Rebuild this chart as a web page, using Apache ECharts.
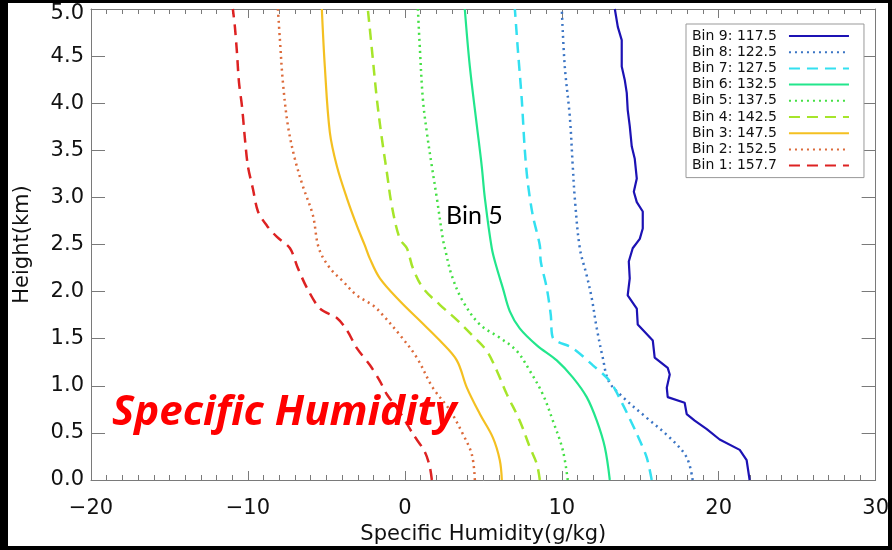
<!DOCTYPE html>
<html>
<head>
<meta charset="utf-8">
<script src="https://cdn.jsdelivr.net/npm/echarts@6/dist/echarts.min.js"></script>
<style>
html,body{margin:0;padding:0;background:#000;}
#chart{width:892px;height:550px;}
</style>
</head>
<body>
<div id="chart"></div>
<script>
// Tick values
const xTicks = [-20, -10, 0, 10, 20, 30];
const yTicks = [0.0, 0.5, 1.0, 1.5, 2.0, 2.5, 3.0, 3.5, 4.0, 4.5, 5.0];

// Legend labels (top to bottom)
const binLabels = ['Bin 9: 117.5','Bin 8: 122.5','Bin 7: 127.5','Bin 6: 132.5','Bin 5: 137.5','Bin 4: 142.5','Bin 3: 147.5','Bin 2: 152.5','Bin 1: 157.7'];

// Profiles: [specific humidity (g/kg), height (km)]
const bin1 = [[1.72,0],[1.59,0.14],[1.27,0.30],[0.51,0.49],[-0.32,0.72],[-1.15,0.91],[-1.59,1.05],[-2.23,1.22],[-3.06,1.40],[-3.69,1.59],[-4.33,1.72],[-5.41,1.82],[-6.24,2.04],[-6.82,2.25],[-7.32,2.46],[-8.15,2.58],[-8.79,2.70],[-9.36,2.85],[-9.68,3.09],[-10.0,3.33],[-10.19,3.62],[-10.38,3.97],[-10.57,4.22],[-10.70,4.54],[-10.83,4.81],[-10.96,5.0]];
const bin2 = [[4.46,0],[4.27,0.27],[3.69,0.49],[2.87,0.74],[1.78,0.98],[0.76,1.30],[-0.32,1.54],[-1.40,1.75],[-2.0,1.85],[-3.06,1.96],[-3.95,2.11],[-4.78,2.25],[-5.48,2.46],[-5.86,2.81],[-6.50,3.12],[-7.01,3.41],[-7.45,3.76],[-7.77,4.22],[-7.96,4.67],[-8.09,5.0]];
const bin3 = [[6.18,0],[6.05,0.21],[5.61,0.45],[4.78,0.70],[3.95,0.98],[3.31,1.27],[2.23,1.48],[0.96,1.69],[-0.32,1.90],[-1.59,2.14],[-2.23,2.35],[-2.55,2.49],[-3.06,2.70],[-3.69,2.99],[-4.33,3.33],[-4.78,3.69],[-5.10,4.39],[-5.29,5.0]];
const bin4 = [[8.60,0],[8.41,0.17],[7.96,0.35],[7.32,0.63],[6.50,0.91],[5.86,1.16],[5.22,1.37],[4.33,1.53],[3.31,1.70],[2.23,1.86],[1.15,2.04],[0.51,2.25],[0.13,2.46],[-0.32,2.56],[-0.83,2.91],[-1.15,3.27],[-1.46,3.62],[-1.78,4.04],[-2.10,4.57],[-2.36,5.0]];
const bin5 = [[10.38,0],[10.06,0.32],[9.43,0.63],[8.79,0.91],[7.96,1.16],[7.13,1.37],[6.05,1.51],[4.78,1.65],[3.69,1.90],[2.99,2.17],[2.55,2.46],[2.42,2.56],[2.04,2.99],[1.72,3.33],[1.40,3.69],[1.15,4.04],[0.96,4.57],[0.83,5.0]];
const bin6 = [[13.06,0],[12.74,0.35],[12.23,0.63],[11.59,0.88],[10.70,1.09],[9.68,1.27],[8.41,1.43],[7.32,1.61],[6.69,1.79],[6.24,2.04],[5.86,2.25],[5.54,2.46],[5.10,2.99],[4.90,3.33],[4.59,3.76],[4.14,4.39],[3.82,5.0]];
const bin7 = [[15.73,0],[15.41,0.24],[14.78,0.49],[13.89,0.80],[13.06,1.05],[11.97,1.22],[10.70,1.40],[9.43,1.51],[9.30,1.75],[9.04,2.04],[8.66,2.32],[8.60,2.49],[8.15,2.81],[7.83,3.16],[7.64,3.51],[7.45,4.04],[7.20,4.57],[7.01,5.0]];
const bin8 = [[18.34,0],[17.96,0.24],[16.88,0.45],[15.41,0.66],[13.89,0.88],[12.99,1.05],[12.61,1.30],[12.23,1.61],[11.91,1.93],[11.59,2.17],[11.15,2.46],[10.83,2.99],[10.70,3.33],[10.51,3.86],[10.19,4.39],[10.0,5.0]];
const bin9 = [[21.97,0],[21.78,0.21],[21.34,0.32],[20.06,0.43],[19.24,0.54],[18.47,0.63],[17.96,0.70],[17.83,0.82],[16.75,0.88],[16.69,0.98],[16.88,1.12],[16.75,1.19],[15.92,1.30],[15.80,1.48],[14.84,1.65],[14.78,1.82],[14.20,1.96],[14.33,2.14],[14.27,2.32],[14.52,2.46],[14.97,2.56],[15.16,2.67],[15.16,2.85],[14.78,2.95],[14.59,3.06],[14.78,3.20],[14.65,3.41],[14.46,3.54],[14.33,3.76],[14.20,3.93],[14.14,4.11],[14.01,4.25],[13.82,4.39],[13.82,4.67],[13.57,4.81],[13.38,5.0]];

const DOT = [2, 4];
const DASH = [11, 7];
const binSeries = [
  {data: bin9, color: '#1c12b4', type: 'solid', width: 2.2, smooth: false},
  {data: bin8, color: '#3a74c4', type: DOT, width: 2.5, smooth: 0.35},
  {data: bin7, color: '#33e0f0', type: DASH, width: 2.5, smooth: 0.3},
  {data: bin6, color: '#22e68c', type: 'solid', width: 2.2, smooth: 0.35},
  {data: bin5, color: '#44e044', type: DOT, width: 2.5, smooth: 0.35},
  {data: bin4, color: '#a6e52a', type: DASH, width: 2.5, smooth: 0.35},
  {data: bin3, color: '#f4c021', type: 'solid', width: 2.2, smooth: 0.35},
  {data: bin2, color: '#dc6a3a', type: DOT, width: 2.5, smooth: 0.35},
  {data: bin1, color: '#dd2222', type: DASH, width: 2.5, smooth: 0.3}
];

const FONT = 'DejaVu Sans';
const axisGray = '#7a7a7a';

const chart = echarts.init(document.getElementById('chart'), null, {renderer: 'canvas'});

function xAxisCfg(pos, labels) {
  return {
    type: 'value', position: pos, min: xTicks[0], max: xTicks[xTicks.length - 1], interval: 10,
    axisLine: {show: true, onZero: false, lineStyle: {color: axisGray, width: 1}},
    axisTick: {show: true, inside: true, length: 9, lineStyle: {color: axisGray}},
    minorTick: {show: true, splitNumber: 10, length: 5, lineStyle: {color: axisGray}},
    splitLine: {show: false},
    axisLabel: labels ? {show: true, color: '#111', fontFamily: FONT, fontSize: 21, margin: 18,
      formatter: v => (v < 0 ? '\u2212' + Math.abs(v) : String(v))} : {show: false},
    name: labels ? 'Specific Humidity(g/kg)' : '',
    nameLocation: 'middle', nameGap: 44,
    nameTextStyle: {color: '#111', fontFamily: FONT, fontSize: 21}
  };
}
function yAxisCfg(pos, labels) {
  return {
    type: 'value', position: pos, min: yTicks[0], max: yTicks[yTicks.length - 1], interval: 0.5,
    axisLine: {show: true, onZero: false, lineStyle: {color: axisGray, width: 1}},
    axisTick: {show: true, inside: true, length: 14, lineStyle: {color: axisGray}},
    splitLine: {show: false},
    axisLabel: labels ? {show: true, color: '#111', fontFamily: FONT, fontSize: 21, margin: 7,
      formatter: v => (v === 5 ? '{t|' + v.toFixed(1) + '}' : v.toFixed(1)),
      rich: {t: {fontFamily: FONT, fontSize: 21, color: '#111', padding: [10, 0, 0, 0]}}} : {show: false},
    name: labels ? 'Height(km)' : '',
    nameLocation: 'middle', nameGap: 58, nameRotate: 90,
    nameTextStyle: {color: '#111', fontFamily: FONT, fontSize: 21}
  };
}

const option = {
  backgroundColor: '#ffffff',
  animation: false,
  grid: {left: 91, right: 16, top: 9, bottom: 67, containLabel: false},
  xAxis: [xAxisCfg('bottom', true), xAxisCfg('top', false)],
  yAxis: [yAxisCfg('left', true), yAxisCfg('right', false)],
  legend: {
    orient: 'vertical', left: 686, top: 24, align: 'right',
    itemWidth: 60, itemHeight: 14, itemGap: 2.2,
    padding: [5, 14, 5, 6],
    borderColor: '#999', borderWidth: 1, borderRadius: 0, backgroundColor: '#fff',
    itemStyle: {color: 'rgba(0,0,0,0)', borderColor: 'rgba(0,0,0,0)', borderWidth: 0, opacity: 0},
    textStyle: {fontFamily: FONT, fontSize: 14, color: '#111', padding: [0, 7, 0, 0]},
    data: binLabels
  },
  series: binSeries.map((b, i) => ({
    name: binLabels[i], type: 'line', data: b.data,
    xAxisIndex: 0, yAxisIndex: 0,
    symbol: 'none', showSymbol: false, smooth: b.smooth, clip: true,
    lineStyle: {color: b.color, type: b.type, width: b.width},
    itemStyle: {color: b.color},
    z: 3
  })),
  graphic: [
    {type: 'rect', shape: {x: 0, y: 0, width: 8, height: 550}, style: {fill: '#000'}, silent: true, z: 50},
    {type: 'rect', shape: {x: 0, y: 0, width: 892, height: 3}, style: {fill: '#000'}, silent: true, z: 50},
    {type: 'rect', shape: {x: 888, y: 0, width: 4, height: 550}, style: {fill: '#000'}, silent: true, z: 50},
    {type: 'rect', shape: {x: 0, y: 546, width: 892, height: 4}, style: {fill: '#000'}, silent: true, z: 50},
    {type: 'text', silent: true, z: 60, style: {text: 'Bin 5', x: 446, y: 216, verticalAlign: 'middle', align: 'left', font: '25px Lato', fill: '#000'}},
    {type: 'text', silent: true, z: 60, style: {text: 'Specific Humidity', x: 112, y: 413, verticalAlign: 'middle', align: 'left', font: 'italic bold 42px "Open Sans"', fill: '#ff0000'}}
  ]
};
chart.setOption(option);
</script>
</body>
</html>
